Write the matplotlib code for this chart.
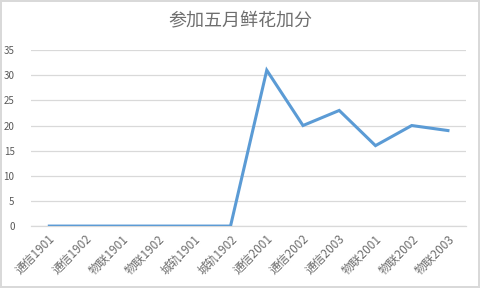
import matplotlib.pyplot as plt

plt.rcParams['font.family'] = ['Noto Sans CJK SC', 'DejaVu Sans']

classes = ['通信1901', '通信1902', '物联1901', '物联1902', '城轨1901', '城轨1902',
           '通信2001', '通信2002', '通信2003', '物联2001', '物联2002', '物联2003']
scores = [0, 0, 0, 0, 0, 0, 31, 20, 23, 16, 20, 19]
yticks = [0, 5, 10, 15, 20, 25, 30, 35]

fig = plt.figure(figsize=(4.8, 2.88), dpi=100)
fig.patch.set_edgecolor('#D9D9D9')
fig.patch.set_linewidth(1.5)
ax = fig.add_axes([0.065, 0.215, 0.906, 0.611])

x = range(len(classes))
ax.plot(x, scores, color='#5B9BD5', linewidth=2.2, solid_joinstyle='miter', zorder=3)

ax.set_xlim(-0.5, len(classes) - 0.5)
ax.set_ylim(0, 35)
ax.set_yticks(yticks)
ax.set_yticklabels([str(v) for v in yticks], fontsize=7, color='#595959')
ax.set_xticks(list(x))
ax.set_xticklabels(classes, fontsize=8.5, color='#6E6E6E', rotation=45,
                   ha='right', va='top', rotation_mode='anchor')
ax.tick_params(axis='both', length=0, pad=5)
ax.tick_params(axis='y', pad=12)
ax.grid(axis='y', color='#D9D9D9', linewidth=0.9)
ax.set_axisbelow(True)
for side in ['left', 'right', 'top']:
    ax.spines[side].set_visible(False)
ax.spines['bottom'].set_color('#D9D9D9')
ax.spines['bottom'].set_linewidth(0.9)

fig.text(0.5, 0.925, '参加五月鲜花加分', ha='center', va='center',
         fontsize=13, color='#6E6E6E')

fig.savefig('out.png', dpi=100, edgecolor=fig.get_edgecolor())
